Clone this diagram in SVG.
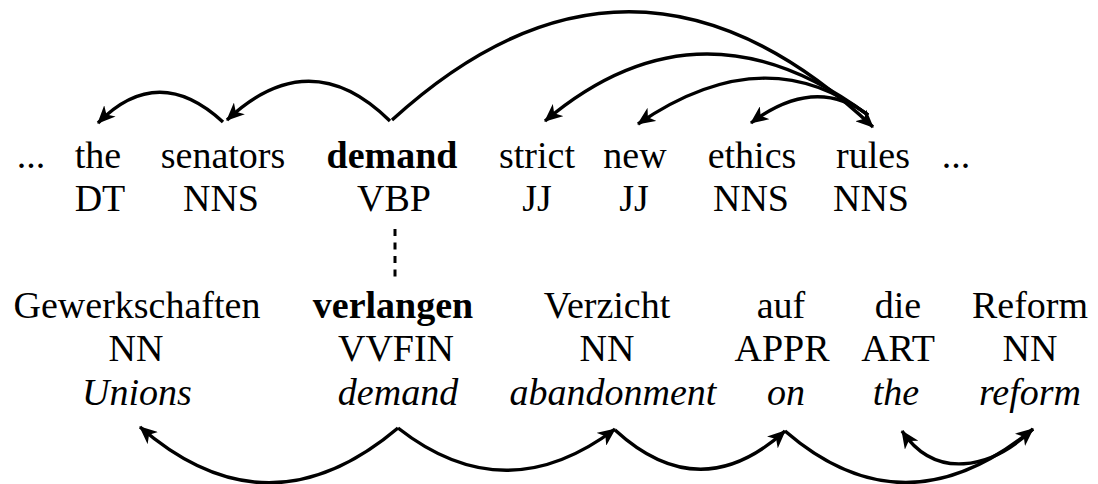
<svg xmlns="http://www.w3.org/2000/svg" width="1098" height="484" viewBox="0 0 1098 484">
<style>
text{font-family:"Liberation Serif","Times New Roman",serif;font-size:38px;fill:#000;text-anchor:middle}
.b{font-weight:bold}
.i{font-style:italic}
.arc{fill:none;stroke:#000;stroke-width:3.4;marker-end:url(#ah)}
.dot{stroke:#000;stroke-width:3;stroke-dasharray:7 6.5}
</style>
<defs>
<marker id="ah" markerUnits="userSpaceOnUse" markerWidth="20" markerHeight="16" refX="17" refY="8" orient="auto">
<path d="M0,0 L18,8 L0,16 L5,8 Z" fill="#000"/>
</marker>
</defs>
<rect width="1098" height="484" fill="#fff"/>
<g id="connectors">
<path class="arc" d="M223 122 Q158 62 98 123"/>
<path class="arc" d="M390 121 Q310 42 227 120"/>
<path class="arc" d="M392 120 Q633 -100 873 127"/>
<path class="arc" d="M868 115 Q700 -10 545 121"/>
<path class="arc" d="M868 115 Q765 37 638 124"/>
<path class="arc" d="M868 115 Q815 75 751 123"/>
<path class="arc" d="M398 428 Q268 538 140 427"/>
<path class="arc" d="M398 428 Q505 512 615 429"/>
<path class="arc" d="M615 430 Q700 508 785 431"/>
<path class="arc" d="M785 431 Q905 535 1033 429"/>
<path class="arc" d="M1033 429 C990 470 935 480 902 431"/>
<line id="align" class="dot" x1="395" y1="229" x2="395" y2="277"/>
</g>
<g id="en-dots1"><text x="31" y="168">...</text></g>
<g id="en-the"><text x="98" y="168">the</text><text x="100" y="211">DT</text></g>
<g id="en-senators"><text x="223" y="168">senators</text><text x="221" y="211">NNS</text></g>
<g id="en-demand"><text class="b" x="392" y="168">demand</text><text x="394" y="211">VBP</text></g>
<g id="en-strict"><text x="537" y="168">strict</text><text x="537" y="211">JJ</text></g>
<g id="en-new"><text x="635" y="168">new</text><text x="634" y="211">JJ</text></g>
<g id="en-ethics"><text x="752" y="168">ethics</text><text x="751" y="211">NNS</text></g>
<g id="en-rules"><text x="873" y="168">rules</text><text x="871" y="211">NNS</text></g>
<g id="en-dots2"><text x="956" y="168">...</text></g>
<g id="de-gewerkschaften"><text x="137" y="318">Gewerkschaften</text><text x="136" y="361">NN</text><text class="i" x="137" y="405">Unions</text></g>
<g id="de-verlangen"><text class="b" x="393" y="318">verlangen</text><text x="396" y="361">VVFIN</text><text class="i" x="398" y="405">demand</text></g>
<g id="de-verzicht"><text x="607" y="318">Verzicht</text><text x="607" y="361">NN</text><text class="i" x="613" y="405">abandonment</text></g>
<g id="de-auf"><text x="781" y="318">auf</text><text x="782" y="361">APPR</text><text class="i" x="786" y="405">on</text></g>
<g id="de-die"><text x="898" y="318">die</text><text x="898" y="361">ART</text><text class="i" x="896" y="405">the</text></g>
<g id="de-reform"><text x="1030" y="318">Reform</text><text x="1030" y="361">NN</text><text class="i" x="1030" y="405">reform</text></g>
</svg>
